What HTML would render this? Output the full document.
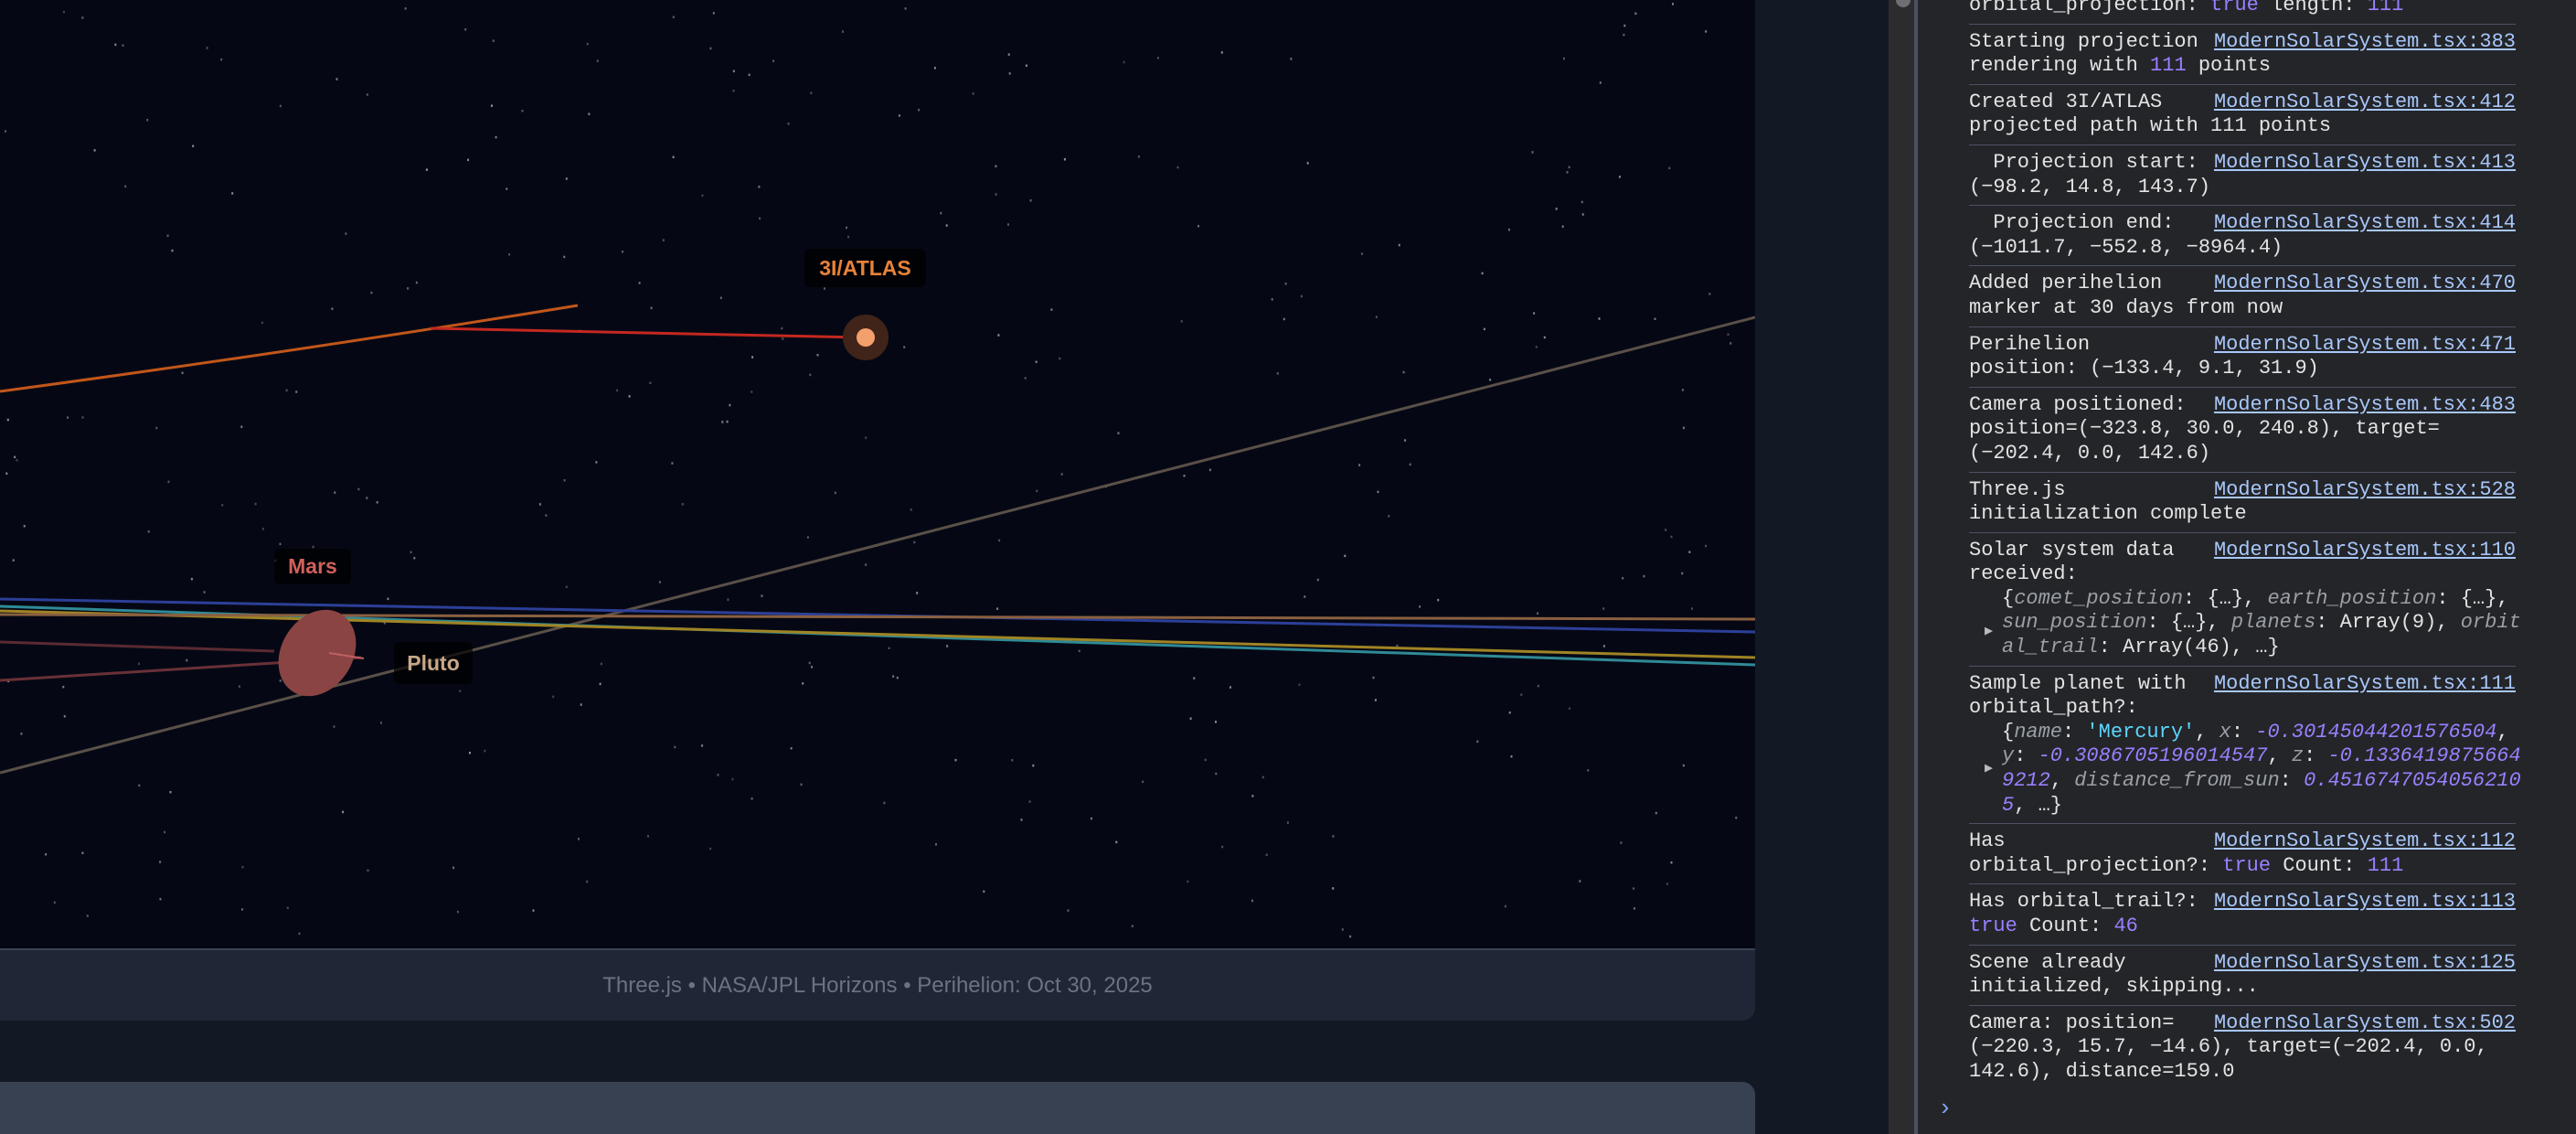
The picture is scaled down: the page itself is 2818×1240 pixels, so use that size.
<!DOCTYPE html>
<html><head><meta charset="utf-8">
<style>
html,body{margin:0;padding:0;width:2818px;height:1240px;overflow:hidden;background:#131825;font-family:"Liberation Sans",sans-serif;}
#scene{position:absolute;left:0;top:0;width:1920px;height:1037px;background:#050814;}
#footer{position:absolute;left:0;top:1037px;width:1920px;height:79px;background:#1f2736;border-top:2px solid #3a4355;box-sizing:border-box;border-radius:0 0 14px 0;color:#6b7280;font-size:24px;text-align:center;line-height:77px;}
#bottompanel{position:absolute;left:0;top:1183px;width:1920px;height:57px;background:#374151;border-radius:0 14px 0 0;}
#track{position:absolute;left:2066px;top:0;width:28px;height:1240px;background:#2c2c2e;}
#thumb{position:absolute;left:2074px;top:-10px;width:16px;height:18px;border-radius:8px;background:#6f6f73;}
#border{position:absolute;left:2094px;top:0;width:4px;height:1240px;background:#4a5060;}
#console{position:absolute;left:2098px;top:0;width:720px;height:1240px;background:#242529;overflow:hidden;}
#log{position:absolute;left:56px;top:-13px;width:598px;font-family:"Liberation Mono",monospace;font-size:22px;line-height:26.6px;color:#e3e3e3;}
.e{padding:6px 0;border-bottom:1.5px solid #4b5263;white-space:pre-wrap;}
.l{float:right;color:#a8c7fa;text-decoration:underline;}
.n{color:#9980ff}
.k{color:#9aa0a6;font-style:italic}
.s{color:#5cd5fb}
.p{padding-left:36px;position:relative;white-space:pre;}
.tri{position:absolute;left:17px;top:0;color:#bbb;font-size:15px;}
</style></head>
<body>
<div id="scene">
<svg id="sv" width="1920" height="1037" style="position:absolute;left:0;top:0">
<g id="stars"></g>
<line x1="0" y1="845" x2="1920" y2="347" stroke="#5a5048" stroke-width="3"/>
<line x1="0" y1="655" x2="1920" y2="691" stroke="#2c3f98" stroke-width="3"/>
<line x1="0" y1="663" x2="1920" y2="727" stroke="#2f8a96" stroke-width="3"/>
<line x1="0" y1="668" x2="1920" y2="719" stroke="#a08424" stroke-width="3"/>
<line x1="0" y1="672" x2="1920" y2="677" stroke="#8a6040" stroke-width="3"/>
<line x1="0" y1="702" x2="300" y2="712" stroke="#5a2a32" stroke-width="3"/>
<line x1="0" y1="744" x2="395" y2="719" stroke="#6a3038" stroke-width="3"/>
<path d="M0 428 Q320 385 632 334" stroke="#c2561a" stroke-width="3" fill="none"/>
<line x1="471" y1="359" x2="940" y2="369" stroke="#c42820" stroke-width="3"/>
<ellipse cx="347" cy="714" rx="50" ry="39" fill="#8a4444" transform="rotate(-58 347 714)"/>
<line x1="360" y1="714" x2="398" y2="720" stroke="#c06060" stroke-width="2"/>
<circle cx="947" cy="369" r="25" fill="#40241a"/>
<circle cx="947" cy="369" r="10" fill="#f4a06c"/>
</svg>
<div style="position:absolute;left:880px;top:272px;width:133px;height:42px;background:rgba(0,0,0,0.75);border-radius:6px;color:#e8823a;font-weight:bold;font-size:23px;text-align:center;line-height:42px">3I/ATLAS</div>
<div style="position:absolute;left:300px;top:600px;width:84px;height:39px;background:rgba(0,0,0,0.7);border-radius:6px;color:#d0605a;font-weight:bold;font-size:23px;text-align:center;line-height:39px">Mars</div>
<div style="position:absolute;left:431px;top:702px;width:86px;height:46px;background:rgba(0,0,0,0.7);border-radius:6px;color:#c8a888;font-weight:bold;font-size:23px;text-align:center;line-height:46px">Pluto</div>
</div>
<div id="footer">Three.js • NASA/JPL Horizons • Perihelion: Oct 30, 2025</div>
<div id="bottompanel"></div>
<div id="track"></div>
<div id="thumb"></div>
<div id="border"></div>
<div id="console">
<div id="log">
<div class="e">orbital_projection: <span class="n">true</span> length: <span class="n">111</span></div>
<div class="e"><span class="l">ModernSolarSystem.tsx:383</span>Starting projection rendering with <span class="n">111</span> points</div>
<div class="e"><span class="l">ModernSolarSystem.tsx:412</span>Created 3I/ATLAS projected path with 111 points</div>
<div class="e"><span class="l">ModernSolarSystem.tsx:413</span>  Projection start: (−98.2, 14.8, 143.7)</div>
<div class="e"><span class="l">ModernSolarSystem.tsx:414</span>  Projection end:   (−1011.7, −552.8, −8964.4)</div>
<div class="e"><span class="l">ModernSolarSystem.tsx:470</span>Added perihelion marker at 30 days from now</div>
<div class="e"><span class="l">ModernSolarSystem.tsx:471</span>Perihelion
position: (−133.4, 9.1, 31.9)</div>
<div class="e"><span class="l">ModernSolarSystem.tsx:483</span>Camera positioned: position=(−323.8, 30.0, 240.8), target=
(−202.4, 0.0, 142.6)</div>
<div class="e"><span class="l">ModernSolarSystem.tsx:528</span>Three.js initialization complete</div>
<div class="e"><span class="l">ModernSolarSystem.tsx:110</span>Solar system data received:
<div class="p"><span class="tri" style="top:36px">▶</span>{<span class="k">comet_position</span>: {…}, <span class="k">earth_position</span>: {…},
<span class="k">sun_position</span>: {…}, <span class="k">planets</span>: Array(9), <span class="k">orbit</span>
<span class="k">al_trail</span>: Array(46), …}</div></div>
<div class="e"><span class="l">ModernSolarSystem.tsx:111</span>Sample planet with orbital_path?:
<div class="p"><span class="tri" style="top:40px">▶</span>{<span class="k">name</span>: <span class="s">'Mercury'</span>, <span class="k">x</span>: <i class="n">-0.30145044201576504</i>,
<span class="k">y</span>: <i class="n">-0.3086705196014547</i>, <span class="k">z</span>: <i class="n">-0.1336419875664</i>
<i class="n">9212</i>, <span class="k">distance_from_sun</span>: <i class="n">0.4516747054056210</i>
<i class="n">5</i>, …}</div></div>
<div class="e"><span class="l">ModernSolarSystem.tsx:112</span>Has orbital_projection?: <span class="n">true</span> Count: <span class="n">111</span></div>
<div class="e"><span class="l">ModernSolarSystem.tsx:113</span>Has orbital_trail?: <span class="n">true</span> Count: <span class="n">46</span></div>
<div class="e"><span class="l">ModernSolarSystem.tsx:125</span>Scene already initialized, skipping...</div>
<div class="e" style="border-bottom:none"><span class="l">ModernSolarSystem.tsx:502</span>Camera: position= (−220.3, 15.7, −14.6), target=(−202.4, 0.0, 142.6), distance=159.0</div>
</div>
<div id="prompt" style="position:absolute;left:22px;top:1197px;color:#7ca4f0;font-family:'Liberation Mono',monospace;font-size:26px">›</div>
</div>
<script>
var g=document.getElementById('stars');
var seed=12345;function rnd(){seed=(seed*16807)%2147483647;return seed/2147483647;}
for(var i=0;i<330;i++){
 var c=document.createElementNS('http://www.w3.org/2000/svg','rect');
 
 
 c.setAttribute('x',(rnd()*1920).toFixed(1));
 c.setAttribute('y',(rnd()*1037).toFixed(1));
 c.setAttribute('width','2');c.setAttribute('height','2.5');
 c.setAttribute('fill','rgba(200,205,215,'+(0.3+rnd()*0.4).toFixed(2)+')');
 g.appendChild(c);
}
</script>
</body></html>
